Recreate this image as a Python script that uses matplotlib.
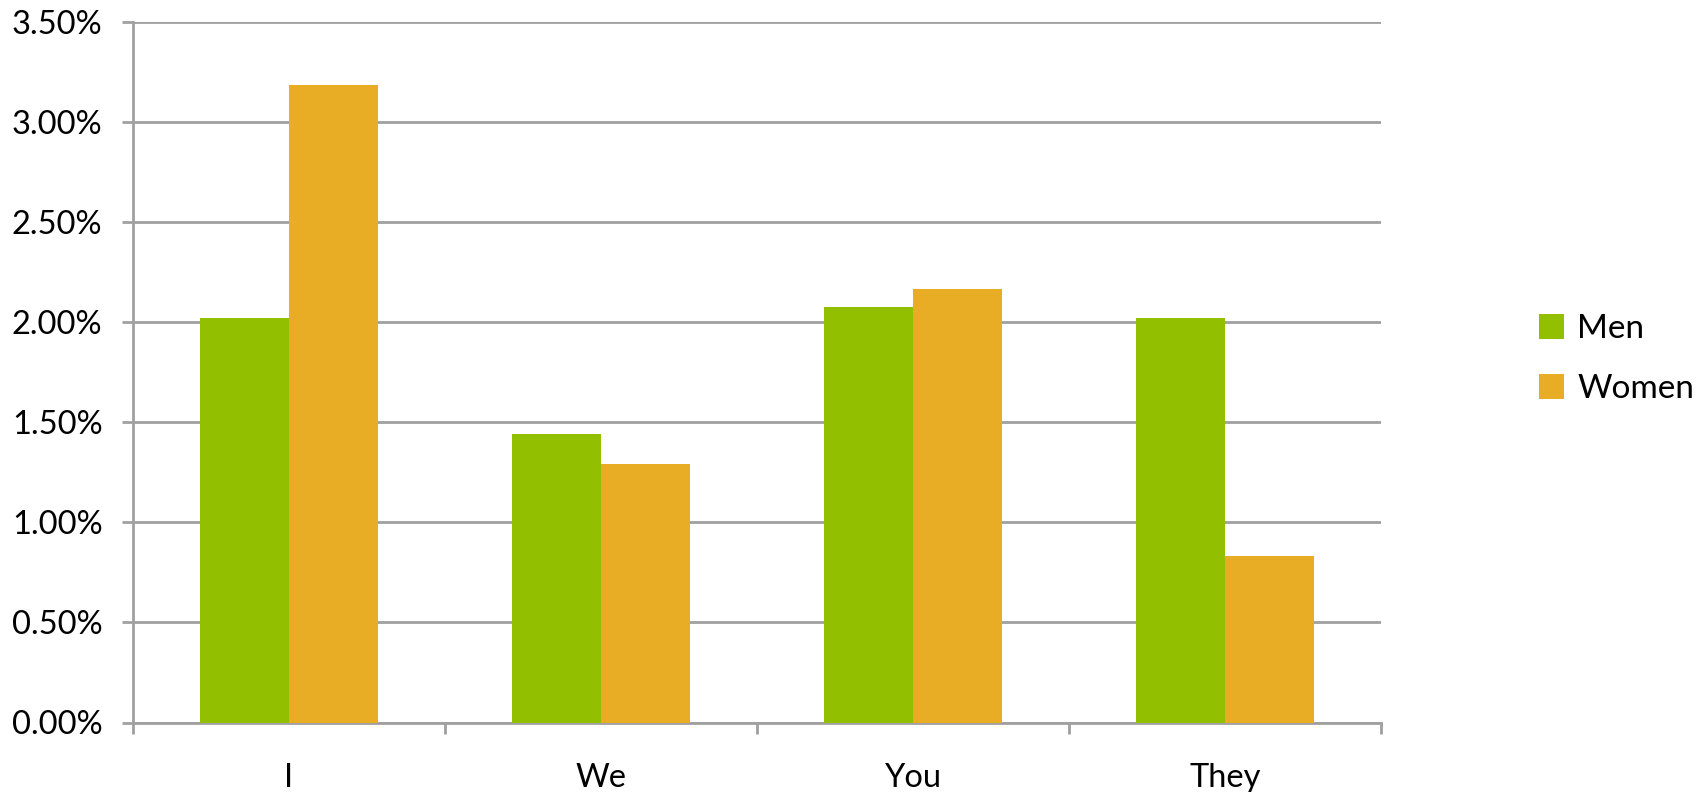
import matplotlib
matplotlib.use("Agg")
import matplotlib.pyplot as plt
from matplotlib.ticker import FixedLocator, PercentFormatter
import numpy as np

categories = ["I", "We", "You", "They"]
series_names = ["Men", "Women"]
men = [2.02, 1.44, 2.075, 2.02]
women = [3.185, 1.29, 2.165, 0.83]
y_ticks = [0.0, 0.5, 1.0, 1.5, 2.0, 2.5, 3.0, 3.5]

colors = ["#92C000", "#E8AD24"]
grid_col = "#A0A0A0"

plt.rcParams['font.family'] = ['Lato', 'DejaVu Sans']

fig = plt.figure(figsize=(17.06, 7.92), dpi=100)
ax = fig.add_axes([133/1706, 1 - 722.5/792, (1381 - 133)/1706, (722.5 - 22)/792])

x = np.arange(len(categories))
w = 0.284
ax.bar(x - w/2, men, width=w, color=colors[0], label=series_names[0], zorder=3)
ax.bar(x + w/2, women, width=w, color=colors[1], label=series_names[1], zorder=3)

ax.set_xlim(-0.5, len(categories) - 0.5)
ax.set_ylim(0, 3.5)
ax.set_yticks(y_ticks)
ax.yaxis.set_major_formatter(PercentFormatter(decimals=2))
ax.grid(axis='y', color=grid_col, linewidth=2, zorder=0)
ax.set_axisbelow(True)

ax.set_xticks(x)
ax.set_xticklabels(categories)
ax.xaxis.set_minor_locator(FixedLocator(np.arange(-0.5, len(categories), 1.0)))
ax.tick_params(axis='x', which='major', length=0, pad=29, labelsize=23.5, colors='black')
ax.tick_params(axis='x', which='minor', length=8, width=2, color=grid_col)
ax.tick_params(axis='y', which='major', length=8, width=2, color=grid_col, pad=14, labelsize=23.5)

for s in ['top', 'right']:
    ax.spines[s].set_visible(False)
for s in ['left', 'bottom']:
    ax.spines[s].set_color(grid_col)
    ax.spines[s].set_linewidth(2)

leg = fig.legend(loc='center left', bbox_to_anchor=(1539/1706, 1 - 359/792), frameon=False,
                 fontsize=24, handlelength=0.75, handleheight=0.75, handletextpad=0.4,
                 labelspacing=0.9, borderpad=0, borderaxespad=0)

fig.savefig("out.png", dpi=100)
